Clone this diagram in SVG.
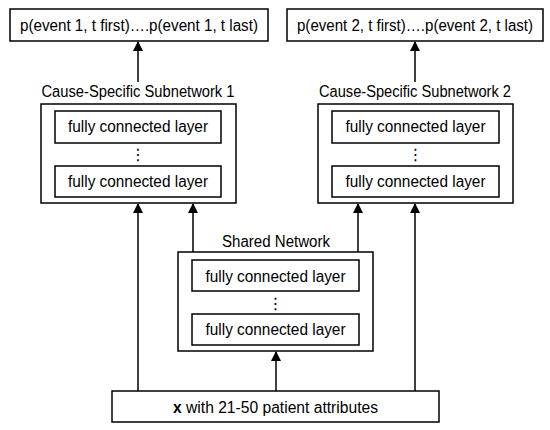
<svg xmlns="http://www.w3.org/2000/svg" width="550" height="430" viewBox="0 0 550 430">
<style>
.box{fill:#fff;stroke:#000;stroke-width:1.5}
.t{font-family:"Liberation Sans",Arial,sans-serif;font-size:16px;fill:#000;text-anchor:middle}
.dots{font-family:"DejaVu Sans",sans-serif;font-size:16px;fill:#000;text-anchor:middle}
.c{stroke:#000;stroke-width:1.5;fill:none;marker-end:url(#ah)}
</style>
<defs>
<marker id="ah" markerUnits="userSpaceOnUse" markerWidth="10" markerHeight="12" refX="9" refY="5" orient="auto">
<path d="M0,0 L10,5 L0,10 Z" fill="#000"/>
</marker>
</defs>
<rect width="550" height="430" fill="#fff"/>
<g id="connectors">
<line class="c" x1="138" y1="82" x2="138" y2="42"/>
<line class="c" x1="415" y1="82" x2="415" y2="42"/>
<line class="c" x1="138" y1="391" x2="138" y2="204"/>
<line class="c" x1="193" y1="252" x2="193" y2="204"/>
<line class="c" x1="358" y1="252" x2="358" y2="204"/>
<line class="c" x1="415" y1="391" x2="415" y2="204"/>
<line class="c" x1="276" y1="391" x2="276" y2="352"/>
</g>
<g id="out1">
<rect class="box" x="10" y="9" width="258" height="32"/>
<text class="t" x="139" y="31" textLength="238" lengthAdjust="spacingAndGlyphs">p(event 1, t first)….p(event 1, t last)</text>
</g>
<g id="out2">
<rect class="box" x="287" y="9" width="256" height="32"/>
<text class="t" x="415" y="31" textLength="236" lengthAdjust="spacingAndGlyphs">p(event 2, t first)….p(event 2, t last)</text>
</g>
<g id="sub1">
<text class="t" x="138" y="97" textLength="193" lengthAdjust="spacingAndGlyphs">Cause-Specific Subnetwork 1</text>
<rect class="box" x="41" y="104" width="195" height="99"/>
<rect class="box" x="55" y="111" width="166" height="32"/>
<text class="t" x="138" y="132" textLength="140" lengthAdjust="spacingAndGlyphs">fully connected layer</text>
<text class="dots" x="138" y="160">⋮</text>
<rect class="box" x="55" y="166" width="166" height="31"/>
<text class="t" x="138" y="187" textLength="140" lengthAdjust="spacingAndGlyphs">fully connected layer</text>
</g>
<g id="sub2">
<text class="t" x="415" y="97" textLength="192" lengthAdjust="spacingAndGlyphs">Cause-Specific Subnetwork 2</text>
<rect class="box" x="318" y="104" width="195" height="99"/>
<rect class="box" x="332" y="111" width="167" height="32"/>
<text class="t" x="415.5" y="132" textLength="140" lengthAdjust="spacingAndGlyphs">fully connected layer</text>
<text class="dots" x="415.5" y="160">⋮</text>
<rect class="box" x="332" y="166" width="167" height="31"/>
<text class="t" x="415.5" y="187" textLength="140" lengthAdjust="spacingAndGlyphs">fully connected layer</text>
</g>
<g id="shared">
<text class="t" x="276" y="247" textLength="108" lengthAdjust="spacingAndGlyphs">Shared Network</text>
<rect class="box" x="178" y="252" width="195" height="99"/>
<rect class="box" x="192" y="260" width="167" height="31"/>
<text class="t" x="275.5" y="282" textLength="140" lengthAdjust="spacingAndGlyphs">fully connected layer</text>
<text class="dots" x="275.5" y="309">⋮</text>
<rect class="box" x="192" y="314" width="167" height="31"/>
<text class="t" x="275.5" y="335" textLength="140" lengthAdjust="spacingAndGlyphs">fully connected layer</text>
</g>
<g id="input">
<rect class="box" x="112" y="391" width="327" height="31"/>
<text class="t" x="275.5" y="413" textLength="205" lengthAdjust="spacingAndGlyphs"><tspan font-weight="bold">x</tspan> with 21-50 patient attributes</text>
</g>
</svg>
